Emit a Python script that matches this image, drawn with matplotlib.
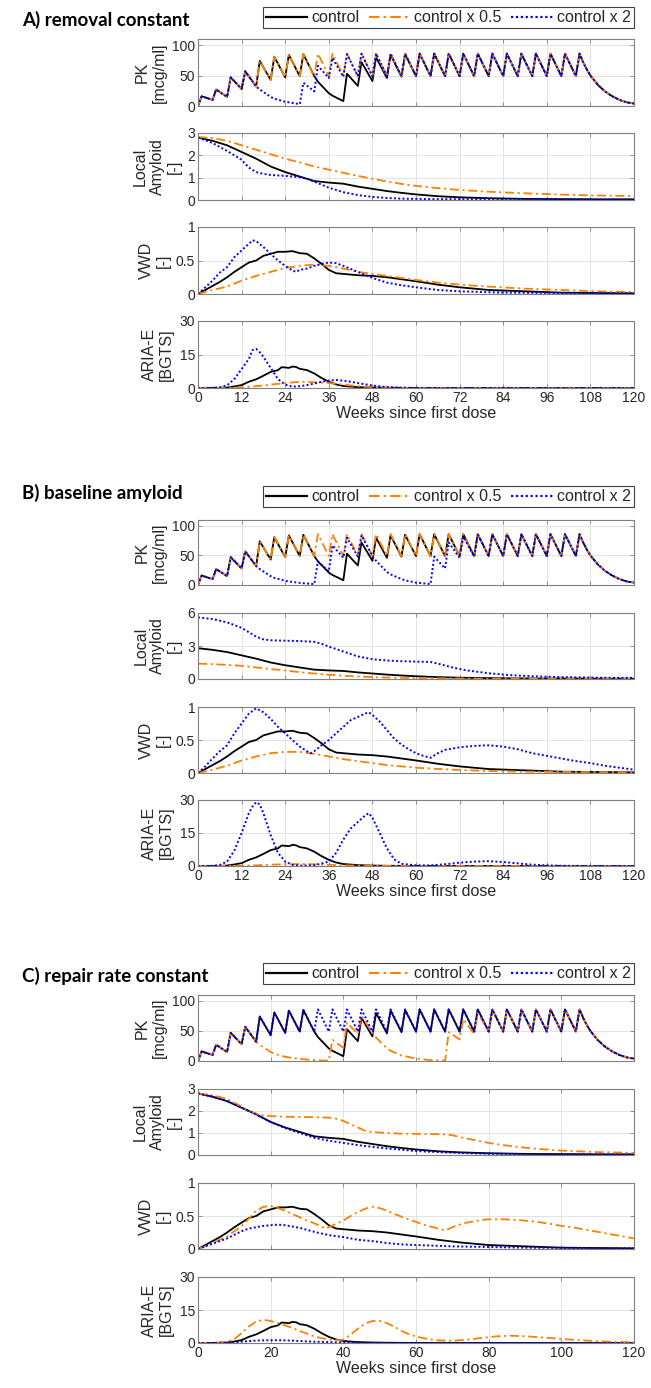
import matplotlib.pyplot as plt
from matplotlib.lines import Line2D

plt.rcParams['font.family'] = ['Liberation Sans', 'DejaVu Sans']

# ---------------- PK (shared week grid: dose week, +1 week, washout tail) ----------------
pk_weeks = [0, 1, 4, 5, 8, 9, 12, 13, 16, 17, 20, 21, 24, 25, 28, 29, 32, 33, 36, 37,
            40, 41, 44, 45, 48, 49, 52, 53, 56, 57, 60, 61, 64, 65, 68, 69, 72, 73, 76, 77,
            80, 81, 84, 85, 88, 89, 92, 93, 96, 97, 100, 101, 104, 105,
            106, 107, 108, 110, 112, 114, 116, 118, 120]
pk_full = [0, 16, 10, 27, 15, 47, 28, 57, 32, 74, 43, 81, 47, 84, 49, 85,
           49, 86, 49, 86, 49, 86, 49, 86, 49, 86, 49, 86, 49, 86, 49, 86, 49, 86, 49, 86,
           49, 86, 49, 86, 49, 86, 49, 86, 49, 86, 49, 86, 49, 86, 49, 86, 49, 86,
           72, 60, 50, 35, 24, 16, 10, 6, 4]
pk_control = [0, 16, 10, 27, 15, 47, 28, 57, 32, 74, 43, 81, 47, 84, 49, 85,
              49, 40, 21, 17, 8, 53, 33, 72, 41, 80, 46, 84, 48, 85, 49, 86,
              49, 86, 49, 86, 49, 86, 49, 86, 49, 86, 49, 86, 49, 86, 49, 86, 49, 86, 49, 86,
              49, 86,
              72, 60, 50, 35, 24, 16, 10, 6, 4]
pk_a_blue = [0, 16, 10, 27, 15, 47, 28, 57,
             32, 27, 15, 12, 7, 6, 3, 38, 24, 66, 46, 79, 48, 85, 49, 86,
             49, 86, 49, 86, 49, 86, 49, 86, 49, 86, 49, 86, 49, 86, 49, 86, 49, 86,
             49, 86, 49, 86, 49, 86, 49, 86, 49, 86, 49, 86,
             72, 60, 50, 35, 24, 16, 10, 6, 4]
pk_b_blue = [0, 16, 10, 27, 15, 47, 28, 57,
             32, 27, 15, 12, 7, 6, 3.5, 3, 1.5, 40, 23, 67, 46, 80, 48, 84, 49, 41,
             22, 18, 10, 8, 4, 3.5, 1.5, 48, 28, 72, 46, 82, 48, 85, 49, 86,
             49, 86, 49, 86, 49, 86, 49, 86, 49, 86, 49, 86,
             72, 60, 50, 35, 24, 16, 10, 6, 4]
pk_c_orange = [0, 16, 10, 27, 15, 47, 28, 57,
               32, 27, 15, 12, 7, 6, 3.5, 3, 1.5, 1.2, 0.5, 35, 22, 64, 45, 75, 47, 39,
               21, 17, 9, 8, 4, 3.5, 1.5, 1.2, 0.5, 48, 36, 70, 45, 80, 49, 85, 49, 86,
               49, 86, 49, 86, 49, 86, 49, 86, 49, 86,
               72, 60, 50, 35, 24, 16, 10, 6, 4]

# ---------------- control (same run in every panel) ----------------
la_ctrl_t = [0, 4, 8, 12, 16, 20, 24, 28, 32, 36, 40, 44, 48, 52, 56, 60, 66, 72, 80, 90, 100, 110, 120]
la_ctrl_v = [2.8, 2.65, 2.45, 2.15, 1.85, 1.5, 1.25, 1.05, 0.85, 0.78, 0.73, 0.6, 0.5, 0.4, 0.32,
             0.25, 0.17, 0.12, 0.08, 0.05, 0.04, 0.03, 0.03]
vwd_ctrl_t = [0, 2, 4, 6, 8, 10, 12, 14, 16, 18, 20, 22, 24, 26, 28, 30, 32, 34, 36, 38, 40,
              44, 48, 52, 56, 60, 66, 72, 80, 90, 100, 120]
vwd_ctrl_v = [0, 0.06, 0.12, 0.18, 0.25, 0.33, 0.4, 0.47, 0.5, 0.57, 0.6, 0.63, 0.63, 0.64, 0.61,
              0.6, 0.53, 0.45, 0.36, 0.31, 0.3, 0.28, 0.27, 0.25, 0.22, 0.19, 0.14, 0.1, 0.06,
              0.04, 0.02, 0.01]
aria_ctrl_t = [0, 6, 8, 10, 12, 14, 16, 18, 20, 22, 23, 24, 25, 26, 27, 28, 30, 32, 34, 36, 38,
               40, 44, 48, 52, 60, 120]
aria_ctrl_v = [0, 0.05, 0.2, 0.7, 1.3, 2.8, 3.9, 5.5, 7.2, 8, 9.3, 9.2, 9, 9.6, 9.4, 8.6, 8, 6.5,
               4.5, 2.8, 1.6, 0.9, 0.4, 0.2, 0.1, 0.03, 0]

# ---------------- A) removal constant ----------------
la_a_half_t = [0, 4, 8, 12, 16, 20, 24, 28, 32, 36, 40, 44, 48, 52, 56, 60, 66, 72, 80, 90, 100, 110, 120]
la_a_half_v = [2.82, 2.77, 2.65, 2.45, 2.25, 2.05, 1.85, 1.68, 1.5, 1.36, 1.22, 1.08, 0.95, 0.83,
               0.72, 0.63, 0.53, 0.45, 0.37, 0.3, 0.24, 0.2, 0.18]
la_a_dbl_t = [0, 4, 8, 12, 14, 16, 18, 20, 24, 28, 30, 32, 36, 40, 44, 48, 52, 56, 64, 80, 120]
la_a_dbl_v = [2.8, 2.55, 2.2, 1.8, 1.45, 1.25, 1.17, 1.12, 1.08, 1.02, 0.95, 0.82, 0.55, 0.35,
              0.22, 0.14, 0.09, 0.06, 0.04, 0.03, 0.02]
vwd_a_half_t = [0, 4, 8, 12, 16, 20, 24, 28, 32, 36, 40, 44, 48, 52, 56, 60, 66, 72, 80, 90, 100, 110, 120]
vwd_a_half_v = [0, 0.06, 0.11, 0.2, 0.27, 0.33, 0.39, 0.42, 0.44, 0.42, 0.38, 0.33, 0.3, 0.27,
                0.24, 0.21, 0.17, 0.14, 0.11, 0.08, 0.06, 0.04, 0.03]
vwd_a_dbl_t = [0, 2, 4, 6, 8, 10, 12, 14, 15, 16, 18, 20, 22, 24, 26, 27, 28, 30, 32, 34, 36,
               38, 40, 44, 48, 52, 56, 60, 66, 72, 84, 120]
vwd_a_dbl_v = [0, 0.1, 0.2, 0.32, 0.4, 0.55, 0.65, 0.75, 0.8, 0.79, 0.7, 0.6, 0.5, 0.42, 0.35,
               0.33, 0.36, 0.38, 0.42, 0.45, 0.47, 0.46, 0.42, 0.33, 0.24, 0.17, 0.13, 0.1,
               0.06, 0.04, 0.02, 0.01]
aria_a_half_t = [0, 12, 16, 20, 24, 28, 32, 36, 40, 44, 48, 52, 60, 120]
aria_a_half_v = [0, 0.2, 0.8, 1.5, 2.2, 2.8, 2.6, 2.2, 1.5, 0.8, 0.4, 0.2, 0, 0]
aria_a_dbl_t = [0, 4, 6, 8, 10, 12, 14, 15, 16, 17, 18, 20, 22, 24, 26, 28, 30, 32, 34, 36, 38,
                40, 42, 44, 48, 52, 56, 60, 70, 120]
aria_a_dbl_v = [0, 0.1, 0.3, 1.2, 4, 8.5, 13, 17, 17.5, 16, 14, 9, 4, 1.5, 0.6, 0.8, 1.3, 2, 2.8,
                3.3, 3.6, 3.3, 2.8, 2.2, 1.1, 0.4, 0.15, 0.05, 0, 0]

# ---------------- B) baseline amyloid ----------------
la_b_half_t = [0, 4, 8, 12, 16, 20, 24, 28, 32, 36, 40, 44, 48, 52, 60, 70, 80, 120]
la_b_half_v = [1.4, 1.35, 1.28, 1.2, 1.05, 0.9, 0.78, 0.62, 0.5, 0.38, 0.3, 0.22, 0.17, 0.13,
               0.08, 0.05, 0.03, 0.01]
la_b_dbl_t = [0, 4, 8, 12, 14, 16, 18, 20, 24, 28, 32, 34, 36, 40, 44, 48, 52, 56, 60, 64, 66,
              70, 74, 80, 86, 92, 100, 110, 120]
la_b_dbl_v = [5.6, 5.45, 5.15, 4.65, 4.25, 3.85, 3.6, 3.52, 3.48, 3.45, 3.38, 3.2, 2.95, 2.5,
              2.05, 1.8, 1.68, 1.62, 1.58, 1.55, 1.4, 1.05, 0.78, 0.52, 0.35, 0.25, 0.17, 0.12, 0.1]
vwd_b_half_t = [0, 4, 8, 12, 16, 20, 24, 28, 32, 36, 40, 44, 48, 52, 56, 60, 70, 80, 90, 120]
vwd_b_half_v = [0, 0.05, 0.11, 0.19, 0.25, 0.3, 0.32, 0.32, 0.29, 0.25, 0.21, 0.18, 0.15, 0.12,
                0.1, 0.08, 0.05, 0.03, 0.02, 0.01]
vwd_b_dbl_t = [0, 2, 4, 6, 8, 10, 12, 14, 16, 18, 20, 22, 24, 26, 28, 30, 31, 32, 34, 36, 38, 40,
               42, 44, 46, 47, 48, 50, 52, 54, 56, 58, 60, 62, 64, 66, 68, 70, 72, 76, 80, 84,
               88, 92, 96, 100, 104, 108, 112, 116, 120]
vwd_b_dbl_v = [0, 0.1, 0.22, 0.33, 0.42, 0.6, 0.75, 0.9, 0.98, 0.92, 0.82, 0.7, 0.6, 0.5, 0.4,
               0.33, 0.3, 0.33, 0.42, 0.5, 0.6, 0.7, 0.8, 0.85, 0.9, 0.92, 0.88, 0.78, 0.65, 0.52,
               0.43, 0.36, 0.3, 0.26, 0.23, 0.3, 0.35, 0.37, 0.39, 0.41, 0.42, 0.4, 0.36, 0.3,
               0.26, 0.22, 0.18, 0.15, 0.11, 0.08, 0.05]
aria_b_half_t = [0, 12, 16, 20, 24, 28, 32, 36, 40, 48, 60, 120]
aria_b_half_v = [0, 0.1, 0.3, 0.6, 0.8, 0.9, 0.8, 0.5, 0.3, 0.1, 0, 0]
aria_b_dbl_t = [0, 4, 6, 8, 10, 12, 14, 15, 16, 17, 18, 20, 22, 24, 26, 28, 32, 36, 38, 40, 42,
                44, 46, 47, 48, 50, 52, 54, 56, 60, 64, 68, 72, 76, 80, 84, 88, 92, 96, 100, 110, 120]
aria_b_dbl_v = [0, 0.1, 0.5, 2, 7, 15, 24, 27, 29, 28, 24, 14, 6, 2, 0.5, 0.2, 0.3, 2, 6, 12, 17,
                20, 23, 24, 22, 15, 8, 3, 1, 0.3, 0.3, 0.8, 1.5, 2, 2.2, 1.8, 1.2, 0.6, 0.3, 0.1,
                0, 0]

# ---------------- C) repair rate constant ----------------
la_c_half_t = [0, 4, 8, 12, 14, 16, 18, 20, 24, 28, 32, 36, 38, 40, 42, 44, 46, 48, 52, 56, 60,
               64, 68, 70, 72, 76, 80, 84, 88, 92, 96, 100, 110, 120]
la_c_half_v = [2.8, 2.72, 2.55, 2.2, 2.0, 1.88, 1.8, 1.77, 1.74, 1.73, 1.72, 1.7, 1.65, 1.55, 1.4,
               1.25, 1.1, 1.04, 1.0, 0.97, 0.96, 0.95, 0.94, 0.9, 0.82, 0.68, 0.55, 0.45, 0.37,
               0.3, 0.25, 0.2, 0.13, 0.1]
la_c_dbl_t = [0, 4, 8, 12, 16, 20, 24, 28, 32, 36, 40, 44, 48, 52, 56, 60, 66, 72, 80, 90, 120]
la_c_dbl_v = [2.8, 2.65, 2.45, 2.15, 1.85, 1.5, 1.22, 1.0, 0.78, 0.65, 0.55, 0.45, 0.37, 0.3,
              0.24, 0.18, 0.13, 0.09, 0.06, 0.04, 0.02]
vwd_c_half_t = [0, 2, 4, 6, 8, 10, 12, 14, 16, 18, 20, 22, 24, 26, 28, 30, 32, 34, 35, 36, 38, 40,
                42, 44, 46, 48, 50, 52, 54, 56, 58, 60, 62, 64, 66, 68, 70, 72, 74, 76, 78, 80,
                84, 88, 92, 96, 100, 104, 108, 112, 116, 120]
vwd_c_half_v = [0, 0.04, 0.09, 0.14, 0.19, 0.27, 0.35, 0.46, 0.58, 0.64, 0.65, 0.62, 0.58, 0.53,
                0.48, 0.43, 0.39, 0.34, 0.31, 0.33, 0.38, 0.43, 0.5, 0.56, 0.61, 0.64, 0.62, 0.58,
                0.53, 0.49, 0.45, 0.41, 0.37, 0.34, 0.31, 0.28, 0.33, 0.37, 0.4, 0.42, 0.44, 0.45,
                0.45, 0.44, 0.42, 0.39, 0.35, 0.32, 0.28, 0.24, 0.2, 0.16]
vwd_c_dbl_t = [0, 4, 8, 12, 14, 16, 18, 20, 22, 24, 26, 28, 32, 36, 40, 44, 48, 52, 56, 60, 70,
               80, 90, 120]
vwd_c_dbl_v = [0, 0.08, 0.16, 0.27, 0.31, 0.33, 0.35, 0.36, 0.37, 0.36, 0.34, 0.32, 0.26, 0.21,
               0.18, 0.14, 0.12, 0.09, 0.07, 0.06, 0.04, 0.03, 0.02, 0.01]
aria_c_half_t = [0, 4, 8, 10, 12, 14, 16, 18, 20, 22, 24, 26, 28, 30, 32, 34, 36, 38, 40, 42, 44,
                 46, 48, 50, 52, 54, 56, 58, 60, 62, 64, 66, 70, 74, 78, 82, 86, 90, 94, 98, 102,
                 106, 110, 115, 120]
aria_c_half_v = [0, 0.05, 0.6, 1.8, 4.5, 7.5, 9.8, 10.5, 10, 9, 8, 6.8, 5.5, 4.2, 3, 2.2, 1.6, 1.3,
                 1.5, 3.8, 6.5, 8.8, 10, 10, 9, 7.5, 5.5, 4, 3, 2.2, 1.6, 1.2, 1, 1.5, 2.3, 3, 3.3,
                 3.1, 2.6, 2.1, 1.6, 1.2, 0.8, 0.5, 0.3]
aria_c_dbl_t = [0, 8, 12, 16, 20, 24, 28, 32, 36, 40, 48, 60, 120]
aria_c_dbl_v = [0, 0.1, 0.6, 1.1, 1.3, 1.2, 0.9, 0.6, 0.4, 0.2, 0.1, 0, 0]

legend_labels = ['control', 'control x 0.5', 'control x 2']
ylabels = ['PK\n[mcg/ml]', 'Local\nAmyloid\n[-]', 'VWD\n[-]', 'ARIA-E\n[BGTS]']

W, H = 651, 1388
AX_LEFT, AX_RIGHT = 198, 634
c_ctrl, c_half, c_dbl = 'black', '#ff8000', '#0000ff'
ink = '#262626'


def style_axes(ax, ylim, yticks, xticks, show_x):
    ax.set_xlim(0, 120)
    ax.set_ylim(*ylim)
    ax.set_yticks(yticks)
    ax.set_yticklabels([('%g' % y) for y in yticks])
    ax.set_xticks(xticks)
    if show_x:
        ax.set_xticklabels([str(x) for x in xticks])
        ax.set_xlabel('Weeks since first dose', fontsize=11.5, color=ink, labelpad=1)
    else:
        ax.set_xticklabels([])
    ax.grid(True, color='#dedede', lw=0.6)
    ax.set_axisbelow(True)
    for s in ax.spines.values():
        s.set_color('#808080')
        s.set_linewidth(0.8)
    ax.tick_params(direction='in', top=True, right=True, length=3, width=0.6,
                   color='#808080', labelcolor=ink, labelsize=10, pad=2)


def draw_group(rows, series, ylims, yticks_list, xticks, title, title_y, leg_top):
    for i, (top, bottom) in enumerate(rows):
        ax = fig.add_axes([AX_LEFT / W, 1 - bottom / H, (AX_RIGHT - AX_LEFT) / W, (bottom - top) / H])
        (t0, v0), (t1, v1), (t2, v2) = series[i]
        ax.plot(t0, v0, color=c_ctrl, lw=1.3, ls='-')
        ax.plot(t1, v1, color=c_half, lw=1.3, ls=(0, (5, 2, 1.2, 2)))
        ax.plot(t2, v2, color=c_dbl, lw=1.4, ls=(0, (1, 1.2)))
        style_axes(ax, ylims[i], yticks_list[i], xticks, i == 3)
        ax.set_ylabel(ylabels[i], fontsize=11.5, color=ink, linespacing=1.15, labelpad=4)
    fig.text(22 / W, 1 - title_y / H, title, fontsize=13.5, fontweight='bold',
             family=['Lato', 'DejaVu Sans'], va='center', ha='left', color='black')
    handles = [Line2D([], [], color=c_ctrl, lw=1.6, ls='-'),
               Line2D([], [], color=c_half, lw=1.5, ls=(0, (5, 2, 1.2, 2))),
               Line2D([], [], color=c_dbl, lw=1.6, ls=(0, (1, 1.2)))]
    leg = fig.legend(handles, legend_labels, loc='upper right', ncol=3,
                     bbox_to_anchor=(AX_RIGHT / W, 1 - leg_top / H),
                     fontsize=11.5, frameon=True, fancybox=False, framealpha=1,
                     edgecolor='#404040', handlelength=2.6, handletextpad=0.25,
                     columnspacing=0.6, borderpad=0.2, borderaxespad=0)
    leg.get_frame().set_linewidth(0.8)
    for txt in leg.get_texts():
        txt.set_color(ink)


fig = plt.figure(figsize=(W / 100, H / 100), dpi=100)

pk_ylim = (0, 110)
draw_group([(39, 106), (133, 200), (227, 294), (321, 388)],
           [((pk_weeks, pk_control), (pk_weeks, pk_full), (pk_weeks, pk_a_blue)),
            ((la_ctrl_t, la_ctrl_v), (la_a_half_t, la_a_half_v), (la_a_dbl_t, la_a_dbl_v)),
            ((vwd_ctrl_t, vwd_ctrl_v), (vwd_a_half_t, vwd_a_half_v), (vwd_a_dbl_t, vwd_a_dbl_v)),
            ((aria_ctrl_t, aria_ctrl_v), (aria_a_half_t, aria_a_half_v), (aria_a_dbl_t, aria_a_dbl_v))],
           [pk_ylim, (0, 3), (0, 1), (0, 30)],
           [[0, 50, 100], [0, 1, 2, 3], [0, 0.5, 1], [0, 15, 30]],
           list(range(0, 121, 12)), 'A) removal constant', 20, 7)

draw_group([(520, 585), (613, 679), (707, 773), (800, 866)],
           [((pk_weeks, pk_control), (pk_weeks, pk_full), (pk_weeks, pk_b_blue)),
            ((la_ctrl_t, la_ctrl_v), (la_b_half_t, la_b_half_v), (la_b_dbl_t, la_b_dbl_v)),
            ((vwd_ctrl_t, vwd_ctrl_v), (vwd_b_half_t, vwd_b_half_v), (vwd_b_dbl_t, vwd_b_dbl_v)),
            ((aria_ctrl_t, aria_ctrl_v), (aria_b_half_t, aria_b_half_v), (aria_b_dbl_t, aria_b_dbl_v))],
           [pk_ylim, (0, 6), (0, 1), (0, 30)],
           [[0, 50, 100], [0, 3, 6], [0, 0.5, 1], [0, 15, 30]],
           list(range(0, 121, 12)), 'B) baseline amyloid', 493, 486)

draw_group([(995, 1061), (1089, 1155), (1183, 1249), (1277, 1343)],
           [((pk_weeks, pk_control), (pk_weeks, pk_c_orange), (pk_weeks, pk_full)),
            ((la_ctrl_t, la_ctrl_v), (la_c_half_t, la_c_half_v), (la_c_dbl_t, la_c_dbl_v)),
            ((vwd_ctrl_t, vwd_ctrl_v), (vwd_c_half_t, vwd_c_half_v), (vwd_c_dbl_t, vwd_c_dbl_v)),
            ((aria_ctrl_t, aria_ctrl_v), (aria_c_half_t, aria_c_half_v), (aria_c_dbl_t, aria_c_dbl_v))],
           [pk_ylim, (0, 3), (0, 1), (0, 30)],
           [[0, 50, 100], [0, 1, 2, 3], [0, 0.5, 1], [0, 15, 30]],
           list(range(0, 121, 20)), 'C) repair rate constant', 976, 963)

plt.savefig('out.png', dpi=100)
